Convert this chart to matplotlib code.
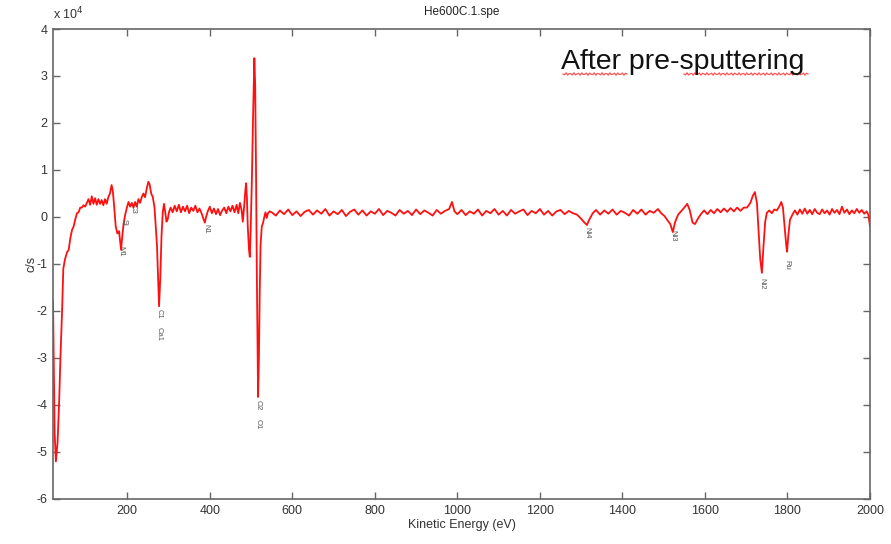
import numpy as np
import matplotlib
matplotlib.use("Agg")
import matplotlib.pyplot as plt

# ---- data (counts in units of 1e4 c/s) ----
energy = [20, 24, 27, 31, 35, 38, 42, 45, 49, 54, 58, 62, 66, 70, 74, 78, 82, 86, 90, 94,
          98, 102, 106, 110, 114, 118, 122, 126, 130, 134, 138, 142, 146, 150, 154, 158, 162, 165, 168, 172,
          176, 180, 183, 185, 188, 191, 195, 199, 203, 207, 211, 215, 219, 223, 227, 231, 235, 239, 243, 247,
          251, 254, 258, 262, 266, 269, 272, 275, 277, 280, 283, 286, 289, 292, 295, 298, 301, 305, 310, 315,
          320, 325, 330, 335, 340, 345, 350, 355, 360, 365, 370, 375, 380, 385, 388, 391, 395, 400, 405, 410,
          415, 420, 425, 430, 435, 440, 445, 450, 455, 460, 465, 469, 473, 477, 480, 483, 486, 488, 490, 492,
          495, 497, 499, 502, 505, 508, 510, 512, 514, 516, 517, 519, 521, 523, 526, 529, 532, 535, 538, 541,
          545]
counts = [-1.8, -4.6, -5.2, -4.8, -3.9, -3.0, -2.0, -1.1, -0.9, -0.75, -0.7, -0.45, -0.28, -0.2, -0.05, 0.08, 0.1, 0.2, 0.2, 0.25,
          0.22, 0.3, 0.38, 0.26, 0.44, 0.28, 0.4, 0.26, 0.38, 0.28, 0.36, 0.25, 0.38, 0.28, 0.42, 0.5, 0.68, 0.55, 0.25, -0.2,
          -0.35, -0.3, -0.55, -0.7, -0.4, -0.15, 0.05, 0.2, 0.32, 0.22, 0.3, 0.2, 0.32, 0.22, 0.38, 0.3, 0.42, 0.5, 0.42, 0.6,
          0.75, 0.7, 0.5, 0.42, 0.2, -0.2, -0.6, -1.4, -1.9, -1.3, -0.4, 0.1, 0.28, 0.1, -0.1, -0.05, 0.1, 0.2, 0.1, 0.24,
          0.12, 0.26, 0.1, 0.22, 0.12, 0.24, 0.08, 0.2, 0.13, 0.24, 0.1, 0.18, 0.08, -0.05, -0.12, 0.0, 0.12, 0.22, 0.08, 0.18,
          0.06, 0.17, 0.04, 0.14, 0.2, 0.08, 0.22, 0.12, 0.24, 0.1, 0.26, 0.08, 0.3, 0.15, -0.1, 0.2, 0.55, 0.72, 0.4, -0.2,
          -0.7, -0.85, -0.3, 0.8, 2.2, 3.38, 2.8, 1.0, -1.2, -3.0, -3.83, -3.0, -1.6, -0.6, -0.2, -0.13, 0.0, 0.1, -0.02, 0.08,
          0.12]

energy_hi = [550, 560, 570, 580, 590, 600, 610, 620, 630, 640, 650, 660, 670, 680, 690, 700, 710, 720, 730, 740,
             750, 760, 770, 780, 790, 800, 810, 820, 830, 840, 850, 860, 870, 880, 890, 900, 910, 920, 930, 940,
             950, 960, 970, 980, 987, 993, 1000, 1010, 1020, 1030, 1040, 1050, 1060, 1070, 1080, 1090, 1100, 1110, 1120, 1130,
             1140, 1150, 1160, 1170, 1180, 1190, 1200, 1210, 1220, 1230, 1240, 1250, 1260, 1270, 1280, 1290, 1298, 1306, 1314, 1320,
             1328, 1336, 1346, 1356, 1366, 1376, 1386, 1396, 1406, 1416, 1426, 1436, 1446, 1456, 1466, 1476, 1486, 1494, 1502, 1510,
             1516, 1522, 1528, 1535, 1542, 1550, 1557, 1563, 1570, 1576, 1582, 1590, 1598, 1606, 1614, 1622, 1630, 1638, 1646, 1654,
             1662, 1670, 1678, 1686, 1694, 1702, 1710, 1716, 1721, 1726, 1730, 1734, 1738, 1742, 1746, 1750, 1756, 1762, 1768, 1774,
             1780, 1785, 1789, 1793, 1797, 1799, 1802, 1806, 1812, 1818, 1824, 1830, 1836, 1842, 1848, 1854, 1860, 1866, 1872, 1878,
             1884, 1890, 1896, 1902, 1908, 1914, 1920, 1926, 1932, 1938, 1944, 1950, 1956, 1962, 1968, 1974, 1980, 1986, 1992, 1996,
             2000]
counts_hi = [0.10, 0.03, 0.14, 0.06, 0.16, 0.04, 0.12, 0.02, 0.11, 0.15, 0.05, 0.14, 0.07, 0.17, 0.03, 0.12, 0.06, 0.15, 0.02, 0.11,
             0.16, 0.05, 0.14, 0.03, 0.12, 0.07, 0.17, 0.04, 0.13, 0.09, 0.03, 0.15, 0.07, 0.13, 0.04, 0.16, 0.06, 0.14, 0.09, 0.03,
             0.15, 0.07, 0.13, 0.17, 0.32, 0.12, 0.06, 0.15, 0.04, 0.12, 0.07, 0.16, 0.03, 0.13, 0.08, 0.17, 0.05, 0.13, 0.03, 0.15,
             0.07, 0.12, 0.16, 0.04, 0.13, 0.08, 0.17, 0.05, 0.13, 0.03, 0.12, 0.15, 0.06, 0.13, 0.08, 0.05, -0.02, -0.10, -0.17, -0.05,
             0.08, 0.15, 0.05, 0.14, 0.07, 0.16, 0.05, 0.13, 0.09, 0.03, 0.15, 0.07, 0.16, 0.05, 0.13, 0.09, 0.17, 0.08, 0.02, -0.08,
             -0.15, -0.32, -0.10, 0.05, 0.12, 0.20, 0.28, 0.15, -0.12, -0.15, -0.05, 0.06, 0.14, 0.06, 0.15, 0.08, 0.17, 0.10, 0.18, 0.11,
             0.19, 0.12, 0.20, 0.13, 0.20, 0.20, 0.30, 0.45, 0.53, 0.30, -0.30, -0.90, -1.19, -0.60, -0.10, 0.09, 0.14, 0.08, 0.16, 0.14,
             0.22, 0.32, 0.20, -0.20, -0.60, -0.74, -0.40, -0.06, 0.05, 0.14, 0.05, 0.16, 0.07, 0.18, 0.07, 0.15, 0.06, 0.17, 0.09, 0.06,
             0.16, 0.08, 0.14, 0.05, 0.17, 0.09, 0.15, 0.06, 0.22, 0.09, 0.16, 0.06, 0.14, 0.08, 0.17, 0.09, 0.15, 0.07, 0.12, 0.05,
             -0.20]

peak_names = ["M1", "Si", "C3", "C1", "Ca1", "N1", "O2", "O1", "Ni4", "Ni3", "Ni2", "Ru"]
peak_energy = [185, 193, 215, 277, 277, 390, 518, 518, 1314, 1522, 1738, 1799]
peak_top = [-0.62, -0.05, 0.28, -1.95, -2.35, -0.15, -3.9, -4.3, -0.22, -0.28, -1.3, -0.92]

x_ticks = [200, 400, 600, 800, 1000, 1200, 1400, 1600, 1800, 2000]
y_ticks = [-6, -5, -4, -3, -2, -1, 0, 1, 2, 3, 4]

# ---- plot ----
plt.rcParams['font.family'] = ['Liberation Sans', 'DejaVu Sans']
plt.rcParams['axes.unicode_minus'] = False
fig = plt.figure(figsize=(8.91, 5.44), dpi=100)
ax = fig.add_axes([53/891, 1-499/544, (870-53)/891, (499-29)/544])

E = energy + energy_hi
C = counts + counts_hi
ax.plot(E, C, color='#ff1010', lw=1.3)

ax.set_xlim(20, 2000)
ax.set_ylim(-6, 4)
ax.set_xticks(x_ticks)
ax.set_yticks(y_ticks)
for s in ax.spines.values():
    s.set_color('#666666')
    s.set_linewidth(1.2)
ax.tick_params(direction='in', length=5, width=1, colors='#666666', labelcolor='#333333',
               labelsize=9, top=True, right=True, pad=4)

for name, e, t in zip(peak_names, peak_energy, peak_top):
    ax.text(e, t, name, rotation=270, ha='center', va='top', fontsize=5.5, color='#555555')

fig.text(53/891, 1-22/544, r'x 10$^{4}$', fontsize=9, color='#333333', ha='left', va='bottom')
ax.set_title('He600C.1.spe', fontsize=8.5, color='#222222', pad=10)
ax.set_xlabel('Kinetic Energy (eV)', fontsize=9, color='#333333', labelpad=2)
ax.set_ylabel('c/s', fontsize=9, color='#333333', labelpad=-1)

fig.text(561/891, 1-69/544, 'After pre-sputtering', fontsize=20.5, color='#111111',
         ha='left', va='baseline')

# spell-check squiggles
for x0, x1 in [(563, 627), (684, 808)]:
    xs = np.linspace(x0, x1, int((x1 - x0) / 1.5))
    ys = 74 + 1.2 * np.sin((xs - x0) * 2 * np.pi / 4.0)
    fig.add_artist(plt.Line2D(xs / 891, 1 - ys / 544, color='#ff5555', lw=0.9))

fig.savefig('out.png', dpi=100)
